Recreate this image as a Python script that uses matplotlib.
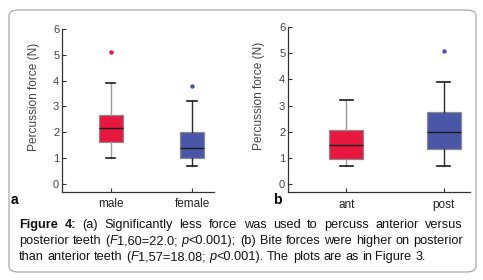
import matplotlib

matplotlib.use("Agg")
import matplotlib.pyplot as plt
from matplotlib.patches import FancyBboxPatch

plt.rcParams["font.family"] = ["Liberation Sans", "DejaVu Sans"]

W, H = 483, 280

# panel a: sex
groups_a = ["male", "female"]
lo_a = [1.0, 0.7]
q1_a = [1.6, 1.0]
med_a = [2.15, 1.38]
q3_a = [2.65, 2.02]
hi_a = [3.9, 3.22]
out_a = [[5.1], [3.8]]

# panel b: tooth position
groups_b = ["ant", "post"]
lo_b = [0.7, 0.7]
q1_b = [0.97, 1.33]
med_b = [1.48, 2.0]
q3_b = [2.08, 2.75]
hi_b = [3.2, 3.9]
out_b = [[], [5.07]]

yticks = [0, 1, 2, 3, 4, 5, 6]
ylabel = "Percussion force (N)"

RED = "#e8173f"
BLUE = "#4a57a8"


def fx(px):
    return px / W


def fy(py):
    return 1 - py / H


def draw_panel(rect, groups, lo, q1, med, q3, hi, outs, width, letter, letter_xy):
    ax = fig.add_axes(rect)
    ax.patch.set_visible(False)
    stats = []
    for g, a, b, c, d, e, f in zip(groups, lo, q1, med, q3, hi, outs):
        stats.append(dict(label=g, whislo=a, q1=b, med=c, q3=d, whishi=e, fliers=f))
    art = ax.bxp(stats, positions=[1, 2], widths=width, patch_artist=True,
                 capwidths=width * 0.38, showfliers=True)
    for i, col in enumerate([RED, BLUE]):
        art["boxes"][i].set(facecolor=col, edgecolor="#8a8a8a", linewidth=0.9)
        art["medians"][i].set(color="#1a1a1a", linewidth=1.0)
        wcol = "#9a9a9a" if i == 0 else "#2a2a2a"
        for w in art["whiskers"][2 * i:2 * i + 2]:
            w.set(color=wcol, linewidth=1.0)
        for c in art["caps"][2 * i:2 * i + 2]:
            c.set(color="#1a1a1a", linewidth=1.2)
        art["fliers"][i].set(marker="o", markersize=2.2, markerfacecolor=col,
                             markeredgecolor=col)
    ax.set_xlim(0.4, 2.27)
    ax.set_ylim(-0.3, 6)
    ax.set_yticks(yticks)
    ax.spines[["top", "right"]].set_visible(False)
    ax.spines["left"].set_bounds(-0.3, 6)
    for s in ["left", "bottom"]:
        ax.spines[s].set(color="#333333", linewidth=0.9)
    ax.tick_params(axis="both", direction="in", length=3, width=0.8, colors="#333333")
    ax.tick_params(axis="y", labelsize=8, pad=2, labelcolor="#444444")
    ax.tick_params(axis="x", labelsize=8.5, pad=5, labelcolor="#222222")
    ax.set_ylabel(ylabel, fontsize=8.6, color="#444444")
    fig.text(fx(letter_xy[0]), fy(letter_xy[1]), letter, fontsize=10, fontweight="bold",
             ha="center", va="center")
    return ax


fig = plt.figure(figsize=(W / 100, H / 100), dpi=100)

box = FancyBboxPatch((fx(9), fy(272)), fx(476) - fx(9), fy(10) - fy(272),
                     boxstyle="round,pad=0,rounding_size=0.02", transform=fig.transFigure,
                     facecolor="none", edgecolor="#b0b0b0", linewidth=1.0, zorder=0)
fig.patches.append(box)

ax_a = draw_panel([fx(62), fy(191.5), fx(214) - fx(62), fy(29) - fy(191.5)],
                  groups_a, lo_a, q1_a, med_a, q3_a, hi_a, out_a, 0.3, "a", (14, 200))
ax_a.yaxis.set_label_coords(-0.145, 0.585)
ax_b = draw_panel([fx(288), fy(192), fx(470) - fx(288), fy(27) - fy(192)],
                  groups_b, lo_b, q1_b, med_b, q3_b, hi_b, out_b, 0.35, "b", (277, 200))
ax_b.yaxis.set_label_coords(-0.126, 0.585)

# caption, first two lines justified
cap_lines = [
    [("Figure 4:", "bold"), (" (a) Significantly less force was used to percuss anterior versus", "normal")],
    [("posterior teeth (", "normal"), ("F", "italic"), ("1,60=22.0; ", "normal"), ("p", "italic"),
     ("<0.001); (b) Bite forces were higher on posterior", "normal")],
    [("than anterior teeth (", "normal"), ("F", "italic"), ("1,57=18.08; ", "normal"), ("p", "italic"),
     ("<0.001). The plots are as in Figure 3.", "normal")],
]
cap_y = [228, 244, 260]
cap_left, cap_right = 19, 463
cap_size = 9.2

renderer = fig.canvas.get_renderer()


def text_width(s, style):
    t = fig.text(0, 0, s, fontsize=cap_size, fontweight="bold" if style == "bold" else "normal",
                 fontstyle="italic" if style == "italic" else "normal")
    w = t.get_window_extent(renderer).width
    t.remove()
    return w


space_w = text_width("a a", "normal") - text_width("aa", "normal")

for n, (runs, y) in enumerate(zip(cap_lines, cap_y)):
    words = [[]]
    for s, style in runs:
        parts = s.split(" ")
        for k, p in enumerate(parts):
            if k > 0:
                words.append([])
            if p:
                words[-1].append((p, style))
    words = [w for w in words if w]
    widths = [sum(text_width(p, st) for p, st in w) for w in words]
    if n < 2:
        gap = (cap_right - cap_left - sum(widths)) / (len(words) - 1)
    else:
        gap = space_w
    x = cap_left
    for w, ww in zip(words, widths):
        xx = x
        for p, st in w:
            fig.text(fx(xx), fy(y), p, fontsize=cap_size,
                     fontweight="bold" if st == "bold" else "normal",
                     fontstyle="italic" if st == "italic" else "normal",
                     ha="left", va="baseline", color="#111111")
            xx += text_width(p, st)
        x += ww + gap

fig.savefig("out.png", dpi=100)
